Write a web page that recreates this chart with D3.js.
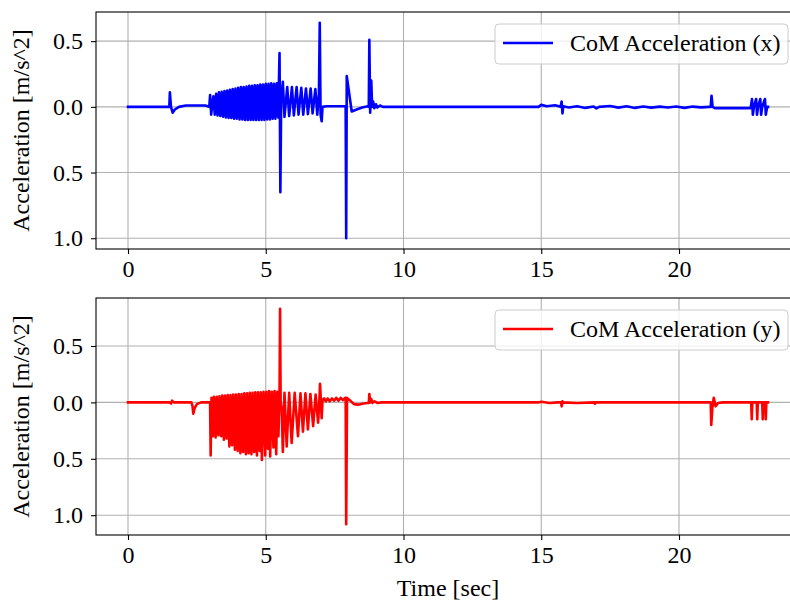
<!DOCTYPE html>
<html>
<head>
<meta charset="utf-8">
<script src="https://cdn.jsdelivr.net/npm/d3@7"></script>
<style>
  body { margin: 0; background: #fff; }
  svg text { font-family: "Liberation Serif", "Times New Roman", serif; fill: #000; }
</style>
</head>
<body>
<svg width="790" height="600"></svg>
<script>
// CoM acceleration, x direction (time [sec], value [m/s^2])
var timeX = [0, 1.50, 1.52, 1.56, 1.62, 1.70, 1.85, 2.10, 2.80, 2.95, 2.98, 3.02, 3.06,
    3.10, 3.15, 3.20, 3.25, 3.30, 3.35, 3.40, 3.45, 3.50, 3.55, 3.60, 3.65, 3.70, 3.75,
    3.80, 3.85, 3.90, 3.95, 4.00, 4.05, 4.10, 4.15, 4.20, 4.25, 4.30, 4.35, 4.40, 4.45,
    4.50, 4.55, 4.60, 4.65, 4.70, 4.75, 4.80, 4.85, 4.90, 4.95, 5.00, 5.05, 5.10, 5.15,
    5.20, 5.25, 5.30, 5.35, 5.40, 5.45, 5.50, 5.53, 5.56,
    5.62, 5.68, 5.78, 5.85, 5.95, 6.02, 6.12, 6.19, 6.29, 6.36, 6.46, 6.53, 6.63, 6.70,
    6.80, 6.87, 6.93, 6.96, 6.99, 7.03, 7.06, 7.20, 7.85, 7.90, 7.92, 7.94, 8.12, 8.30,
    8.50, 8.70, 8.74, 8.76, 8.79, 8.83, 8.86, 8.90, 8.94, 9.00, 9.05, 9.15, 9.25, 14.90,
    15.00, 15.20, 15.50, 15.70, 15.74, 15.77, 15.80, 16.00, 16.30, 16.60, 16.90, 17.00,
    17.10, 17.50, 17.80, 18.10, 18.40, 18.70, 19.00, 19.30, 19.60, 19.90, 20.20, 20.50,
    20.80, 21.10, 21.15, 21.18, 21.22, 21.30, 22.60, 22.65, 22.68, 22.72, 22.80, 22.83,
    22.87, 22.95, 22.98, 23.02, 23.12, 23.15, 23.20, 23.23];
var accX = [0, 0, 0.11, 0.0, -0.045, -0.02, 0.0, 0.01, 0.01, 0.0, 0.09, -0.06, 0.02,
    0.08, -0.06, 0.10, -0.065, 0.11, -0.07, 0.115, -0.075, 0.12, -0.08, 0.125, -0.085, 0.13, -0.085,
    0.135, -0.09, 0.14, -0.09, 0.145, -0.095, 0.15, -0.095, 0.15, -0.10, 0.155, -0.10, 0.16, -0.10,
    0.16, -0.10, 0.165, -0.10, 0.165, -0.10, 0.17, -0.10, 0.17, -0.10, 0.175, -0.095, 0.175, -0.095,
    0.18, -0.09, 0.175, -0.09, 0.18, -0.08, 0.41, -0.65, 0.05,
    0.19, -0.076, 0.15, -0.07, 0.15, -0.065, 0.15, -0.06, 0.145, -0.06, 0.14, -0.055, 0.14, -0.05,
    0.135, -0.06, 0.10, 0.64, -0.06, -0.11, 0.0, 0.005, 0.005, 0.0, -1.0, 0.235, -0.035, -0.02,
    -0.005, 0.005, 0.0, 0.51, -0.045, 0.20, 0.0, 0.04, -0.01, 0.02, -0.005, 0.01, 0.0, 0.0,
    0.015, 0.005, 0.012, 0.0, 0.04, -0.05, 0.005, -0.005, 0.005, -0.008, 0.003, -0.012,
    0.0, 0.006, -0.006, 0.004, -0.008, 0.003, -0.006, 0.002, -0.005, 0.003, -0.008, 0.002,
    -0.004, 0.0, 0.0, 0.085, 0.0, -0.01, -0.01, 0.06, -0.06, 0.0, 0.06, -0.06,
    0.0, 0.06, -0.06, 0.0, 0.06, -0.06, 0.0, 0.0];

// CoM acceleration, y direction
var timeY = [0, 1.50, 1.56, 1.60, 1.66, 2.30, 2.34, 2.37, 2.42, 2.50, 2.65, 2.95, 2.98,
    3.00, 3.03, 3.08, 3.12, 3.18, 3.22, 3.28, 3.32, 3.38, 3.42, 3.48, 3.52, 3.58, 3.62,
    3.68, 3.72, 3.78, 3.82, 3.88, 3.92, 3.98, 4.02, 4.08, 4.12, 4.18, 4.22, 4.28, 4.32,
    4.38, 4.42, 4.48, 4.52, 4.58, 4.62, 4.68, 4.72, 4.78, 4.82, 4.86, 4.92, 4.98, 5.02,
    5.08, 5.12, 5.16, 5.22, 5.28, 5.32, 5.38, 5.42, 5.46, 5.50, 5.52, 5.54, 5.58,
    5.62, 5.68, 5.76, 5.85, 5.94, 6.05, 6.17, 6.26, 6.35, 6.44, 6.53, 6.62, 6.72, 6.81,
    6.90, 6.95, 6.97, 7.00, 7.03, 7.06, 7.12, 7.18, 7.25, 7.32, 7.40, 7.48, 7.56, 7.64,
    7.72, 7.80, 7.88, 7.90, 7.92, 7.95, 8.05, 8.20, 8.35, 8.55, 8.70, 8.74, 8.76, 8.79,
    8.83, 8.87, 8.95, 9.05, 9.20, 14.90, 15.00, 15.30, 15.60, 15.72, 15.74, 15.77, 15.80,
    16.30, 16.93, 16.95, 16.98, 21.15, 21.17, 21.21, 21.26, 21.33, 21.42, 21.60, 22.62,
    22.64, 22.66, 22.82, 22.84, 22.86, 23.02, 23.04, 23.06, 23.13, 23.15, 23.17, 23.23];
var accY = [0, 0, -0.01, 0.015, 0.0, 0.0, -0.03, -0.10, -0.05, -0.015, 0.0, 0.0, 0.0,
    -0.47, 0.04, -0.30, 0.05, -0.31, 0.05, -0.29, 0.055, -0.30, 0.06, -0.33, 0.06, -0.32, 0.065,
    -0.39, 0.065, -0.38, 0.07, -0.42, 0.07, -0.43, 0.075, -0.45, 0.075, -0.44, 0.08, -0.46, 0.08,
    -0.45, 0.085, -0.46, 0.085, -0.44, 0.09, -0.47, 0.09, -0.43, 0.09, -0.51, 0.095, -0.47, 0.095,
    -0.41, 0.10, -0.48, 0.095, -0.40, 0.10, -0.46, 0.095, -0.30, 0.05, 0.83, 0.0, -0.05,
    -0.44, 0.085, -0.39, 0.085, -0.36, 0.085, -0.30, 0.08, -0.26, 0.08, -0.24, 0.075, -0.21, 0.07,
    -0.18, 0.04, 0.165, 0.02, -0.14, 0.02, 0.035, 0.01, 0.035, 0.01, 0.035, 0.015, 0.04, 0.015,
    0.04, 0.02, 0.04, 0.04, -1.08, 0.04, 0.02, -0.015, -0.02, -0.01, -0.005, -0.005, 0.075, 0.0,
    0.03, -0.005, 0.01, -0.005, 0.0, 0.0, 0.005, -0.005, 0.0, 0.0, -0.035, 0.01, 0.0,
    -0.005, 0.0, -0.012, 0.0, 0.0, -0.2, -0.05, 0.04, -0.035, -0.005, 0.0, 0.0,
    -0.15, 0.0, 0.0, -0.15, 0.0, 0.0, -0.15, 0.0, 0.0, -0.15, 0.0, 0.0];

var xTicks = [0, 5, 10, 15, 20];
var yTicks = [-1.0, -0.5, 0.0, 0.5];
var seriesNames = ["CoM Acceleration (x)", "CoM Acceleration (y)"];
var seriesColors = ["#0000ff", "#ff0000"];

var svg = d3.select("svg");
var left = 96, right = 800;
var serif = "'Liberation Serif', 'Times New Roman', serif";

// matplotlib style 5% margins
function padded(ext) {
    var m = (ext[1] - ext[0]) * 0.05;
    return [ext[0] - m, ext[1] + m];
}

var xDomain = padded([0, d3.max(timeX.concat(timeY))]);

function drawPanel(times, values, name, color, top, bottom) {
    var x = d3.scaleLinear().domain(xDomain).range([left, right]);
    var y = d3.scaleLinear().domain(padded(d3.extent(values))).range([bottom, top]);
    var g = svg.append("g");

    // grid
    g.selectAll(".gx").data(xTicks).enter().append("line")
        .attr("x1", d => x(d)).attr("x2", d => x(d))
        .attr("y1", top).attr("y2", bottom)
        .attr("stroke", "#b0b0b0").attr("stroke-width", 1.1);
    g.selectAll(".gy").data(yTicks).enter().append("line")
        .attr("x1", left).attr("x2", right)
        .attr("y1", d => y(d)).attr("y2", d => y(d))
        .attr("stroke", "#b0b0b0").attr("stroke-width", 1.1);

    var pts = times.map((t, i) => [t, values[i]]);
    var line = d3.line().x(d => x(d[0])).y(d => y(d[1]));
    g.append("path").datum(pts)
        .attr("d", line)
        .attr("fill", "none")
        .attr("stroke", color)
        .attr("stroke-width", 2.6)
        .attr("stroke-linejoin", "round")
        .attr("stroke-linecap", "square");

    // frame
    g.append("rect")
        .attr("x", left).attr("y", top)
        .attr("width", right - left).attr("height", bottom - top)
        .attr("fill", "none").attr("stroke", "#000").attr("stroke-width", 1.1);

    // axes
    var ax = g.append("g").attr("transform", "translate(0," + bottom + ")")
        .call(d3.axisBottom(x).tickValues(xTicks).tickSize(5).tickPadding(6).tickFormat(d3.format("d")));
    var ay = g.append("g").attr("transform", "translate(" + left + ",0)")
        .call(d3.axisLeft(y).tickValues(yTicks).tickSize(5).tickPadding(8)
            .tickFormat(d => d3.format(".1f")(Math.abs(d))));
    [ax, ay].forEach(a => {
        a.attr("font-family", serif).attr("font-size", 24);
        a.select(".domain").remove();
        a.selectAll("line").attr("stroke", "#000").attr("stroke-width", 1.1);
        a.selectAll("text").attr("font-family", serif).attr("font-size", 24);
    });

    svg.append("text")
        .attr("transform", "translate(29," + ((top + bottom) / 2) + ") rotate(-90)")
        .attr("text-anchor", "middle")
        .attr("font-family", serif)
        .attr("font-size", 24)
        .text("Acceleration [m/s^2]");

    // legend
    var lg = g.append("g").attr("transform", "translate(495," + (top + 12) + ")");
    lg.append("rect")
        .attr("width", 293).attr("height", 40).attr("rx", 4)
        .attr("fill", "#fff").attr("fill-opacity", 0.8)
        .attr("stroke", "#cccccc").attr("stroke-width", 1);
    lg.append("line")
        .attr("x1", 8).attr("x2", 58).attr("y1", 19).attr("y2", 19)
        .attr("stroke", color).attr("stroke-width", 2.6);
    lg.append("text")
        .attr("x", 75).attr("y", 27)
        .attr("font-family", serif)
        .attr("font-size", 24)
        .text(name);
}

drawPanel(timeX, accX, seriesNames[0], seriesColors[0], 12, 249);
drawPanel(timeY, accY, seriesNames[1], seriesColors[1], 298, 535);

svg.append("text")
    .attr("x", (left + right) / 2).attr("y", 596)
    .attr("text-anchor", "middle")
    .attr("font-family", serif)
    .attr("font-size", 24)
    .text("Time [sec]");
</script>
</body>
</html>
